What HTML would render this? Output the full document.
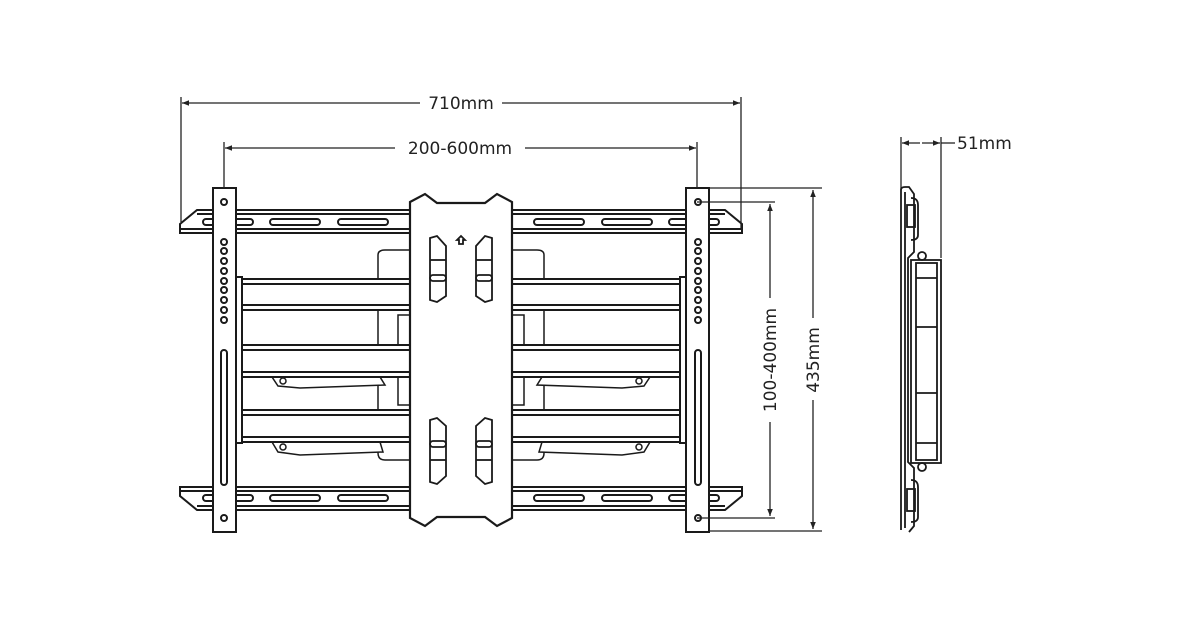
<!DOCTYPE html>
<html><head><meta charset="utf-8"><style>
html,body{margin:0;padding:0;background:#fff}
svg{display:block}
text{font-family:"DejaVu Sans","Liberation Sans",sans-serif;font-size:17px;fill:#222}
</style></head><body>
<svg width="1200" height="630" viewBox="0 0 1200 630" xmlns="http://www.w3.org/2000/svg">
<defs>
<marker id="a" viewBox="0 0 10 10" refX="10" refY="5" markerWidth="9" markerHeight="7" orient="auto-start-reverse" markerUnits="userSpaceOnUse"><path d="M0,1 L10,5 L0,9 z" fill="#222"/></marker>
<g id="half" fill="#fff" stroke="#1a1a1a" stroke-width="2">
  <path d="M378,255 Q378,250 385,250 L410,250 L410,460 L385,460 Q378,460 378,453 Z" fill="none" stroke-width="1.5"/>
  <rect x="398" y="315" width="12" height="90" fill="none" stroke-width="1.5"/>
  <path d="M180,233 L180,224 L197,210 L410,210 L410,233 Z"/>
  <line x1="197" y1="214" x2="410" y2="214"/>
  <line x1="180" y1="229" x2="410" y2="229"/>
  <rect x="203" y="219" width="50" height="6" rx="3"/>
  <rect x="270" y="219" width="50" height="6" rx="3"/>
  <rect x="338" y="219" width="50" height="6" rx="3"/>
  <path d="M180,487 L410,487 L410,510 L197,510 L180,496 Z"/>
  <line x1="180" y1="491" x2="410" y2="491"/>
  <line x1="197" y1="506" x2="410" y2="506"/>
  <rect x="203" y="495" width="50" height="6" rx="3"/>
  <rect x="270" y="495" width="50" height="6" rx="3"/>
  <rect x="338" y="495" width="50" height="6" rx="3"/>
  <path d="M272,377 L380,377 L385,385 L300,388 L278,386 Z" stroke-width="1.5"/>
  <circle cx="283" cy="381" r="3" stroke-width="1.5"/>
  <path d="M272,442 L380,442 L383,452 L300,455 L278,452 Z" stroke-width="1.5"/>
  <circle cx="283" cy="447" r="3" stroke-width="1.5"/>
  <rect x="240" y="279" width="170" height="31"/>
  <line x1="240" y1="284" x2="410" y2="284"/><line x1="240" y1="305" x2="410" y2="305"/>
  <rect x="240" y="345" width="170" height="32"/>
  <line x1="240" y1="350" x2="410" y2="350"/><line x1="240" y1="372" x2="410" y2="372"/>
  <rect x="240" y="410" width="170" height="32"/>
  <line x1="240" y1="415" x2="410" y2="415"/><line x1="240" y1="437" x2="410" y2="437"/>
  <rect x="236" y="277" width="6" height="166"/>
  <rect x="213" y="188" width="23" height="344"/>
  <circle cx="224" cy="202" r="3"/>
  <circle cx="224" cy="518" r="3"/>
  <circle cx="224" cy="242" r="3"/><circle cx="224" cy="251" r="3"/><circle cx="224" cy="261" r="3"/>
  <circle cx="224" cy="271" r="3"/><circle cx="224" cy="281" r="3"/><circle cx="224" cy="290" r="3"/>
  <circle cx="224" cy="300" r="3"/><circle cx="224" cy="310" r="3"/><circle cx="224" cy="320" r="3"/>
  <rect x="221" y="350" width="6" height="135" rx="3"/>
</g>
</defs>

<use href="#half"/>
<use href="#half" transform="translate(922,0) scale(-1,1)"/>

<path d="M410,202 L425,194 L437,203 L485,203 L497,194 L512,202 L512,518 L497,526 L485,517 L437,517 L425,526 L410,518 Z" fill="#fff" stroke="#1a1a1a" stroke-width="2.2"/>
<g stroke="#1a1a1a" stroke-width="1.8" fill="none">
<path d="M430,238 L437,236 L446,246 L446,296 L437,302 L430,300 Z M430,420 L437,418 L446,426 L446,476 L437,484 L430,482 Z"/>
<path d="M492,238 L485,236 L476,246 L476,296 L485,302 L492,300 Z M492,420 L485,418 L476,426 L476,476 L485,484 L492,482 Z"/>
<line x1="430" y1="260" x2="446" y2="260"/><rect x="430" y="275" width="16" height="6" rx="3"/>
<line x1="476" y1="260" x2="492" y2="260"/><rect x="476" y="275" width="16" height="6" rx="3"/>
<line x1="430" y1="460" x2="446" y2="460"/><rect x="430" y="441" width="16" height="6" rx="3"/>
<line x1="476" y1="460" x2="492" y2="460"/><rect x="476" y="441" width="16" height="6" rx="3"/>
<path d="M461,236 L465,240 L463,240 L463,244 L459,244 L459,240 L457,240 Z"/>
</g>

<g stroke="#222" stroke-width="1.3" fill="none">
<line x1="181" y1="97" x2="181" y2="222"/>
<line x1="741" y1="97" x2="741" y2="230"/>
<line x1="182" y1="103" x2="420" y2="103" marker-start="url(#a)"/>
<line x1="502" y1="103" x2="740" y2="103" marker-end="url(#a)"/>
<line x1="224" y1="142" x2="224" y2="188"/>
<line x1="697" y1="142" x2="697" y2="188"/>
<line x1="225" y1="148" x2="395" y2="148" marker-start="url(#a)"/>
<line x1="525" y1="148" x2="696" y2="148" marker-end="url(#a)"/>
<line x1="709" y1="188" x2="822" y2="188"/>
<line x1="709" y1="531" x2="822" y2="531"/>
<line x1="813" y1="190" x2="813" y2="318" marker-start="url(#a)"/>
<line x1="813" y1="400" x2="813" y2="529" marker-end="url(#a)"/>
<line x1="697" y1="202" x2="775" y2="202"/>
<line x1="697" y1="518" x2="775" y2="518"/>
<line x1="770" y1="204" x2="770" y2="298" marker-start="url(#a)"/>
<line x1="770" y1="422" x2="770" y2="516" marker-end="url(#a)"/>
<line x1="901" y1="137" x2="901" y2="190"/>
<line x1="941" y1="137" x2="941" y2="258"/>
<line x1="902" y1="143" x2="920" y2="143" marker-start="url(#a)"/>
<line x1="922" y1="143" x2="940" y2="143" marker-end="url(#a)"/>
<line x1="941" y1="143" x2="955" y2="143"/>
</g>
<text x="461" y="109" text-anchor="middle">710mm</text>
<text x="460" y="154" text-anchor="middle">200-600mm</text>
<text transform="translate(776,360) rotate(-90)" text-anchor="middle">100-400mm</text>
<text transform="translate(819,360) rotate(-90)" text-anchor="middle">435mm</text>
<text x="957" y="149">51mm</text>

<g stroke="#1a1a1a" stroke-width="1.8" fill="none">
<path d="M901,530 L901,190 Q901,187 905,187 L909,187 L914,194 L914,252 L908,258 L908,462 L914,468 L914,526 L909,532"/>
<line x1="905" y1="192" x2="905" y2="528"/>
<path d="M911,198 Q918,198 918,205 L918,235 Q918,240 911,240"/>
<rect x="907" y="205" width="8" height="22"/>
<path d="M911,480 Q918,480 918,487 L918,517 Q918,522 911,522"/>
<rect x="907" y="489" width="8" height="22"/>
<rect x="911" y="260" width="30" height="203"/>
<rect x="916" y="263" width="21" height="197"/>
<line x1="916" y1="278" x2="937" y2="278"/>
<line x1="916" y1="327" x2="937" y2="327"/>
<line x1="916" y1="393" x2="937" y2="393"/>
<line x1="916" y1="443" x2="937" y2="443"/>
<circle cx="922" cy="256" r="4"/>
<circle cx="922" cy="467" r="4"/>
</g>
</svg>
</body></html>
